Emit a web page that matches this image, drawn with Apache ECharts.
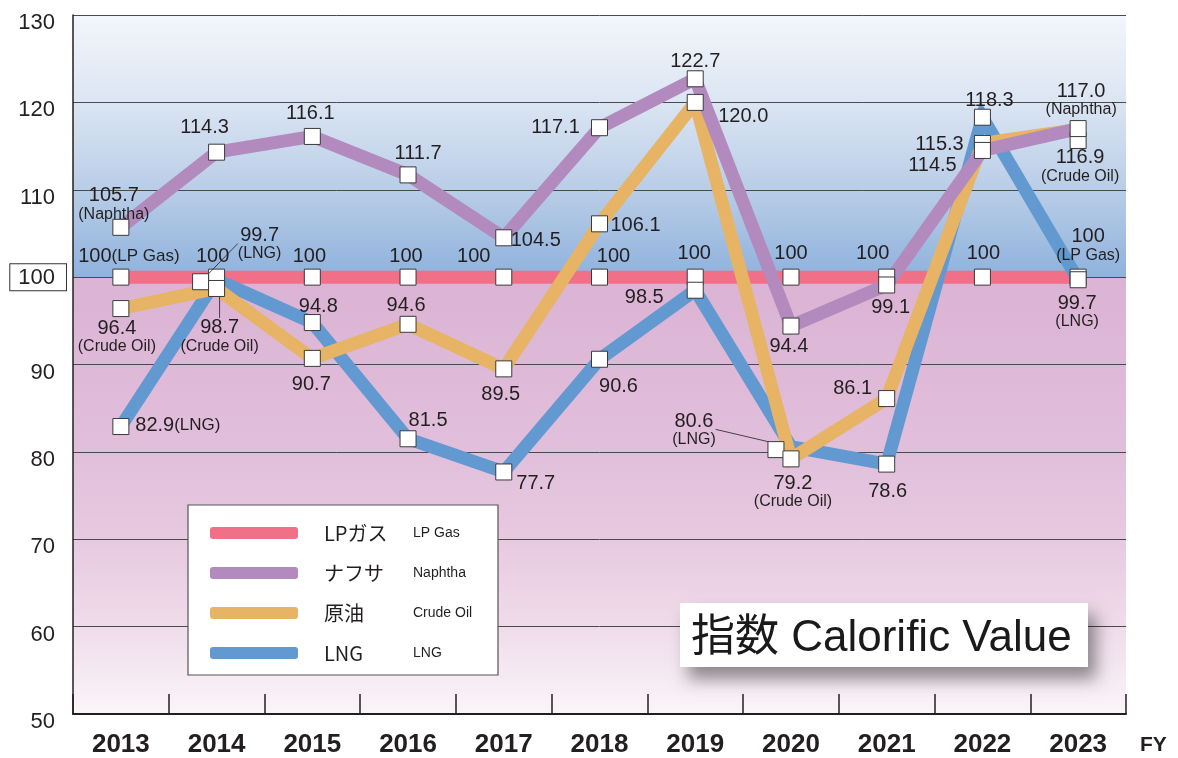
<!DOCTYPE html>
<html>
<head>
<meta charset="utf-8">
<script src="https://cdn.jsdelivr.net/npm/echarts@6/dist/echarts.min.js"></script>
<style>
html,body{margin:0;padding:0;background:#fff;}
#chart{width:1178px;height:758px;}
</style>
</head>
<body>
<div id="chart"></div>
<script>
// ---- data ----
const years = ['2013','2014','2015','2016','2017','2018','2019','2020','2021','2022','2023'];
const lpGas   = [100, 100, 100, 100, 100, 100, 100, 100, 100, 100, 100];
const naphtha = [105.7, 114.3, 116.1, 111.7, 104.5, 117.1, 122.7, 94.4, 99.1, 114.5, 117.0];
const crudeOil= [96.4, 98.7, 90.7, 94.6, 89.5, 106.1, 120.0, 79.2, 86.1, 115.3, 116.9];
const lng     = [82.9, 99.7, 94.8, 81.5, 77.7, 90.6, 98.5, 80.6, 78.6, 118.3, 99.7];
const namesJa = ['LPガス', 'ナフサ', '原油', 'LNG'];
const namesEn = ['LP Gas', 'Naphtha', 'Crude Oil', 'LNG'];
const yTicks  = [50, 60, 70, 80, 90, 100, 110, 120, 130];
const titleText = '指数 Calorific Value';
const fyText = 'FY';

// ---- label layout (offsets from marker, note text, note mode, leader line) ----
const lpLabels = [[8,-21,'(LP Gas)','inline'],[-4,-21],[-3,-21],[-2,-21],[-30,-21],[14,-21],[-1,-24],[0,-24],[-14,-24],[1,-24],[10,-32,'(LP Gas)','block']];
const naLabels = [[-7,-23,'(Naphtha)','block'],[-12,-25],[-2,-23],[10,-21],[32,3],[-44,0],[0,-17],[-2,20],[4,22],[-50,15],[3,-29,'(Naphtha)','block']];
const crLabels = [[-4,28,'(Crude Oil)','block'],[3,48,'(Crude Oil)','block',true],[-1,26],[-2,-19],[-3,26],[36,2],[48,14],[2,33,'(Crude Oil)','block'],[-34,-10],[-43,1],[2,26,'(Crude Oil)','block']];
const lnLabels = [[57,-1,'(LNG)','inline'],[59,-38,'(LNG)','block',true],[6,-16],[20,-18],[32,12],[19,27],[-51,7],[-82,-20,'(LNG)','block',true],[1,27],[7,-17],[-1,32,'(LNG)','block']];
const symOffsets = { lng: {1:[-16,2], 7:[-15,3]}, crude: {10:[0,11]} };

const colors = { lp:'#f07088', na:'#b28abe', cr:'#e6b464', ln:'#6399d1' };
const FONT = "'Liberation Sans', Arial, sans-serif";
const TXT = '#231f20';

function fmtVal(v, isLp){ return isLp ? String(v) : v.toFixed(1); }

function buildMarkerData(values, layout, isLp, offs){
  return values.map((v, i) => {
    const L = layout[i] || [0,-20];
    const num = fmtVal(v, isLp);
    let text = '{a|' + num + '}';
    if (L[2]) text = L[3] === 'inline' ? '{a|' + num + '}{c|' + L[2] + '}' : '{a|' + num + '}\n{b|' + L[2] + '}';
    const item = {
      value: v,
      label: { show: true, position: 'inside', offset: [L[0], L[1]], formatter: text }
    };
    if (L[4]) item.labelLine = { show: true, lineStyle: { color: '#231f20', width: 0.8 } };
    if (offs && offs[i]) item.symbolOffset = offs[i];
    return item;
  });
}

const richStyle = {
  a: { fontSize: 20, fontFamily: FONT, color: TXT, lineHeight: 20 },
  b: { fontSize: 16, fontFamily: FONT, color: TXT, lineHeight: 17 },
  c: { fontSize: 17, fontFamily: FONT, color: TXT, lineHeight: 20 }
};

const drawOrder = [
  { key:'lp', name: namesJa[0], vals: lpGas, lab: lpLabels, isLp: true },
  { key:'ln', name: namesJa[3], vals: lng, lab: lnLabels, offs: symOffsets.lng },
  { key:'cr', name: namesJa[2], vals: crudeOil, lab: crLabels, offs: symOffsets.crude },
  { key:'na', name: namesJa[1], vals: naphtha, lab: naLabels }
];

const series = [];
drawOrder.forEach((s, k) => {
  series.push({
    name: s.name, type: 'line', data: s.vals, showSymbol: false, silent: true,
    z: 2 + k, lineStyle: { width: 13, color: colors[s.key], cap: 'butt', join: 'miter' },
    itemStyle: { color: colors[s.key] }, animation: false
  });
});
drawOrder.forEach((s, k) => {
  series.push({
    name: s.name, type: 'line', data: buildMarkerData(s.vals, s.lab, s.isLp, s.offs),
    symbol: 'rect', symbolSize: 16, showSymbol: true, showAllSymbol: true, silent: true,
    z: 10 + k, lineStyle: { width: 0, opacity: 0 },
    itemStyle: { color: '#ffffff', borderColor: '#3a3a3a', borderWidth: 1 },
    label: { show: true, rich: richStyle, align: 'center', verticalAlign: 'middle' },
    labelLine: { show: false },
    animation: false
  });
});

const legendData = [0,1,2,3].map(i => ({
  name: namesJa[i], icon: 'roundRect',
  itemStyle: { color: [colors.lp, colors.na, colors.cr, colors.ln][i], borderWidth: 0 }
}));

const chart = echarts.init(document.getElementById('chart'), null, { renderer: 'canvas' });
chart.setOption({
  animation: false,
  backgroundColor: '#ffffff',
  grid: {
    left: 73, right: 52, top: 15, bottom: 41, show: true, borderWidth: 0,
    backgroundColor: new echarts.graphic.LinearGradient(0, 0, 0, 1, [
      { offset: 0, color: '#f3f6fb' },
      { offset: 0.125, color: '#dbe5f3' },
      { offset: 0.25, color: '#b9cde7' },
      { offset: 0.375, color: '#8fb2dd' },
      { offset: 0.375, color: '#dbb3d4' },
      { offset: 0.625, color: '#e1bfdb' },
      { offset: 0.75, color: '#e7c9e0' },
      { offset: 0.875, color: '#efdcea' },
      { offset: 1, color: '#faf5f9' }
    ])
  },
  legend: {
    orient: 'vertical', left: 188, top: 505,
    backgroundColor: '#ffffff', borderColor: '#555', borderWidth: 1.2,
    padding: [18, 21, 12, 22], itemWidth: 88, itemHeight: 12, itemGap: 20,
    data: legendData, selectedMode: false,
    formatter: name => {
      const i = namesJa.indexOf(name);
      return '{sp|}{ja|' + name + '}{en|' + namesEn[i] + '}';
    },
    textStyle: {
      rich: {
        sp: { width: 21, height: 22 },
        ja: { width: 89, fontSize: 20, fontFamily: "'Noto Sans CJK JP', " + FONT, color: TXT, lineHeight: 22 },
        en: { width: 64, fontSize: 14, fontFamily: FONT, color: TXT, lineHeight: 22 }
      }
    }
  },
  xAxis: {
    type: 'category', data: years, boundaryGap: true,
    axisLine: { show: true, lineStyle: { color: '#231f20', width: 2 } },
    axisTick: { show: true, inside: true, length: 20, lineStyle: { color: '#231f20', width: 1.5 } },
    axisLabel: { fontSize: 26, fontWeight: 'bold', fontFamily: FONT, color: TXT, margin: 18 },
    splitLine: { show: false }
  },
  yAxis: {
    type: 'value', min: yTicks[0], max: yTicks[yTicks.length-1], interval: 10,
    axisLine: { show: true, lineStyle: { color: '#231f20', width: 1.5 } },
    axisTick: { show: false },
    splitLine: { show: true, lineStyle: { color: '#4a4a4a', width: 1 } },
    axisLabel: {
      margin: 7,
      formatter: v => v === 100 ? '{box|' + v + '}' : '{n|' + v + '}',
      rich: {
        n: { fontSize: 22, fontFamily: FONT, color: TXT, padding: [16, 11, 0, 0] },
        box: { fontSize: 22, fontFamily: FONT, color: TXT, padding: [3, 11, 1, 8], borderColor: '#333', borderWidth: 1, backgroundColor: '#fff' }
      }
    }
  },
  graphic: [
    {
      type: 'rect', left: 680, top: 603, z: 50,
      shape: { width: 408, height: 64 },
      style: { fill: '#ffffff', shadowBlur: 16, shadowOffsetX: 8, shadowOffsetY: 12, shadowColor: 'rgba(0,0,0,0.42)' }
    },
    {
      type: 'text', left: 691, top: 617, z: 51,
      style: { text: titleText, font: "44px 'Liberation Sans', 'Noto Sans CJK JP', sans-serif", fill: '#1a1a1a' }
    },
    {
      type: 'text', left: 1140, top: 735, z: 51,
      style: { text: fyText, font: "bold 21px 'Liberation Sans', Arial, sans-serif", fill: TXT }
    }
  ],
  series: series
});
</script>
</body>
</html>
